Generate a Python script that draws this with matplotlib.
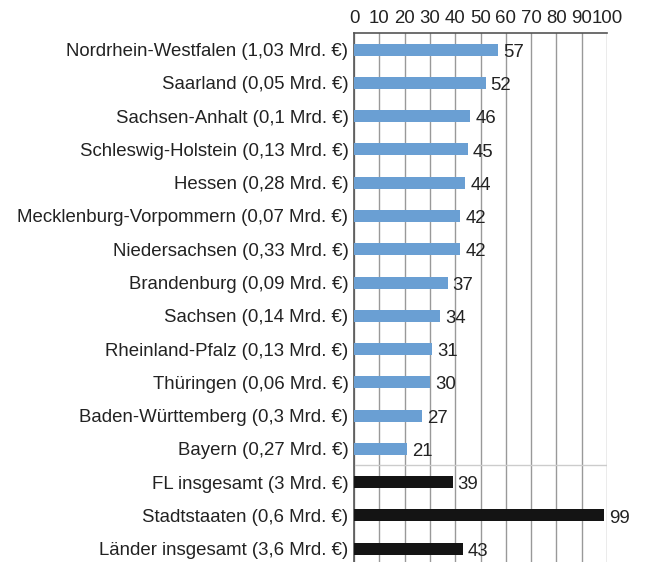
import matplotlib.pyplot as plt
import numpy as np

plt.rcParams['font.family'] = ['Liberation Sans', 'DejaVu Sans']

labels = [
    "Nordrhein-Westfalen (1,03 Mrd. €)",
    "Saarland (0,05 Mrd. €)",
    "Sachsen-Anhalt (0,1 Mrd. €)",
    "Schleswig-Holstein (0,13 Mrd. €)",
    "Hessen (0,28 Mrd. €)",
    "Mecklenburg-Vorpommern (0,07 Mrd. €)",
    "Niedersachsen (0,33 Mrd. €)",
    "Brandenburg (0,09 Mrd. €)",
    "Sachsen (0,14 Mrd. €)",
    "Rheinland-Pfalz (0,13 Mrd. €)",
    "Thüringen (0,06 Mrd. €)",
    "Baden-Württemberg (0,3 Mrd. €)",
    "Bayern (0,27 Mrd. €)",
    "FL insgesamt (3 Mrd. €)",
    "Stadtstaaten (0,6 Mrd. €)",
    "Länder insgesamt (3,6 Mrd. €)",
]
values = [57, 52, 46, 45, 44, 42, 42, 37, 34, 31, 30, 27, 21, 39, 99, 43]
n_states = 13

blue = "#6a9fd3"
dark = "#141414"
colors = [blue] * n_states + [dark] * (len(values) - n_states)
fs = 13.4

fig = plt.figure(figsize=(6.46, 5.62), dpi=100)
# axes runs past the lower figure edge, so the last row sits near the bottom
ax = fig.add_axes([354 / 646, -16.6 / 562, 253 / 646, 545.6 / 562])

y = np.arange(len(values))
ax.barh(y, values, height=0.36, color=colors, zorder=3)

for yi, v in zip(y, values):
    ax.text(v + 2.0, yi + 0.08, str(v), va="center", ha="left",
            fontsize=fs, color="#222222", zorder=4)

# separator between single states and aggregates
ax.axhline(n_states - 0.5, color="#cccccc", lw=1, zorder=2)

ax.set_xlim(0, 100)
ax.set_ylim(len(values) - 0.1, -0.5)
ax.set_xticks(np.arange(0, 101, 10))
ax.xaxis.tick_top()
ax.tick_params(axis="x", length=0, labelsize=fs, pad=4.5, colors="#222222")
ax.set_yticks(y)
ax.set_yticklabels(labels)
ax.tick_params(axis="y", length=0, labelsize=fs, pad=4, colors="#222222")

ax.grid(axis="x", color="#999999", lw=1, zorder=1)
for side in ["bottom", "right"]:
    ax.spines[side].set_visible(False)
ax.spines["top"].set_color("#555555")
ax.spines["left"].set_color("#555555")
ax.spines["top"].set_linewidth(1.2)
ax.spines["left"].set_linewidth(1.2)

fig.savefig("out.png", dpi=100)
